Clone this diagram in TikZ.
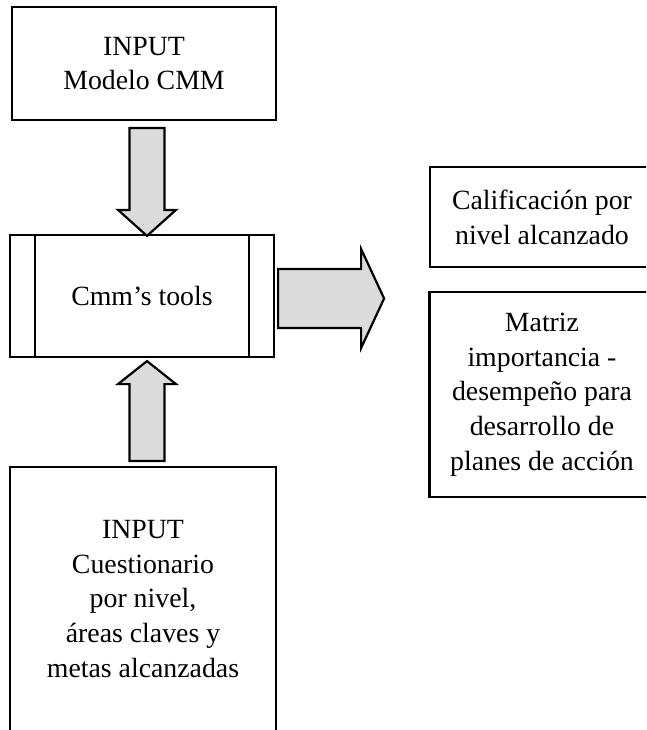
\documentclass[tikz,border=0pt]{standalone}
\usepackage{fontspec}
\setmainfont{Liberation Serif}
\usetikzlibrary{calc}
\begin{document}
\begin{tikzpicture}[x=1pt,y=1pt,
  box/.style={draw=black,line width=2.2pt,rectangle,align=center,inner sep=0pt,
    font=\fontsize{27.8}{34.7}\selectfont},
  fat/.style={draw=black,line width=2.2pt,fill=black!14,line join=miter}]
\clip (0,0) rectangle (646,-730);
\fill[white] (0,0) rectangle (646,-730);
% boxes
\node[box,minimum width=264,minimum height=113] (top) at (144,-63.5) {INPUT\\Modelo CMM};
\node[box,minimum width=264,minimum height=122] (mid) at (142,-296) {Cmm’s tools};
\draw[line width=2.2pt] ($(mid.north west)+(26,0)$) -- ($(mid.south west)+(26,0)$);
\draw[line width=2.2pt] ($(mid.north east)+(-26,0)$) -- ($(mid.south east)+(-26,0)$);
\node[box,minimum width=224,minimum height=100] (cal) at (542,-217) {Calificación por\\nivel alcanzado};
\node[box,minimum width=225,minimum height=205] (mat) at (542,-394.5) {Matriz\\importancia -\\desempeño para\\desarrollo de\\planes de acción};
\node[box,minimum width=266,minimum height=264] (bot) at (143,-599) {INPUT\\Cuestionario\\por nivel,\\áreas claves y\\metas alcanzadas};
% down arrow
\coordinate (d0) at ($(top.south)+(3,-7)$);
\coordinate (d1) at ($(mid.north)+(5,-2)$);
\draw[fat] ($(d0)+(-17.5,0)$) -- ($(d0)+(17.5,0)$) -- ($(d1)+(17.5,26)$) -- ($(d1)+(29,26)$)
  -- (d1) -- ($(d1)+(-29,26)$) -- ($(d1)+(-17.5,26)$) -- cycle;
% up arrow
\coordinate (u0) at ($(bot.north)+(4,5)$);
\coordinate (u1) at ($(mid.south)+(5,-3)$);
\draw[fat] ($(u0)+(-17.5,0)$) -- ($(u0)+(17.5,0)$) -- ($(u1)+(17.5,-23)$) -- ($(u1)+(29,-23)$)
  -- (u1) -- ($(u1)+(-29,-23)$) -- ($(u1)+(-17.5,-23)$) -- cycle;
% right arrow
\coordinate (r0) at ($(mid.east)+(3,-2.5)$);
\coordinate (r1) at ($(r0)+(106,0)$);
\draw[fat] ($(r0)+(0,29.5)$) -- ($(r1)+(-23,29.5)$) -- ($(r1)+(-23,49.5)$) -- (r1)
  -- ($(r1)+(-23,-49.5)$) -- ($(r1)+(-23,-29.5)$) -- ($(r0)+(0,-29.5)$) -- cycle;
\end{tikzpicture}
\end{document}
